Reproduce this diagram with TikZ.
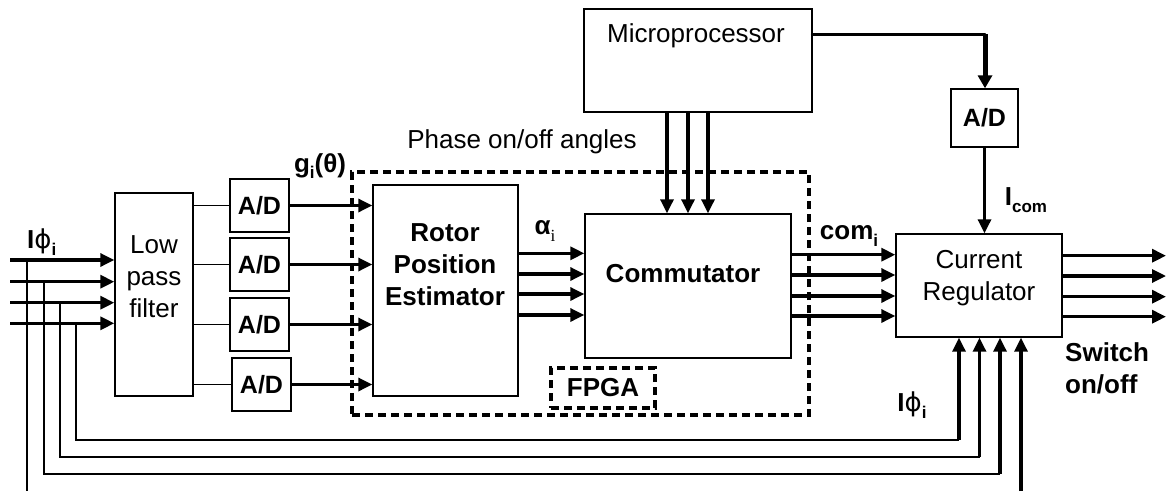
\documentclass[tikz,border=0pt]{standalone}
\usepackage{fontspec}
\setmainfont{Liberation Sans}
\newfontfamily\seriffont{Liberation Serif}
\newfontfamily\dejavu{DejaVu Sans}
\usetikzlibrary{arrows.meta}
\newcommand{\lsub}[1]{\raisebox{-0.25em}{\fontsize{17}{17}\selectfont #1}}
\newcommand{\phisym}{{\dejavu ϕ}}
\begin{document}
\begin{tikzpicture}[x=1pt,y=-1pt,
  font=\fontsize{26}{32}\selectfont,
  box/.style={draw, line width=1.4pt, inner sep=0pt},
  bfont/.style={font=\fontsize{26}{32}\selectfont\bfseries},
  adbox/.style={box, minimum width=59pt, minimum height=53pt, font=\fontsize{25}{30}\selectfont\bfseries},
  dbox/.style={draw, dash pattern=on 8pt off 5pt, line width=3.2pt, inner sep=0pt},
  arr/.style={line width=3.2pt, -{Triangle[length=14pt,width=13pt]}},
  thinline/.style={line width=1.4pt},
  fb/.style={line width=1.7pt},
  lbl/.style={inner sep=0pt}
]
\useasboundingbox (0,0) rectangle (1170,491);

% FPGA areas
\node[dbox, minimum width=457pt, minimum height=243pt] (fpgaarea) at (580.5,293.5) {};
\node[dbox, minimum width=104pt, minimum height=40pt, bfont] (fpga) at (603,388) {FPGA};

% blocks
\node[box, minimum width=78pt, minimum height=203pt] (lpf) at (154,294.5) {};
\node[lbl, align=center] (lpftxt) at (154,277) {Low\\pass\\filter};
\node[adbox] (ad1) at (259.5,205.5) {A/D};
\node[adbox] (ad2) at (259.5,264.5) {A/D};
\node[adbox] (ad3) at (259.5,324.5) {A/D};
\node[adbox] (ad4) at (261.5,384.5) {A/D};
\node[box, minimum width=145pt, minimum height=211pt] (rotor) at (445.5,290.5) {};
\node[lbl, align=center, bfont] (rotortxt) at (445,265) {Rotor\\Position\\Estimator};
\node[box, minimum width=206pt, minimum height=144pt] (comm) at (688,286) {};
\node[lbl, bfont] (commtxt) at (683,274) {Commutator};
\node[box, minimum width=228pt, minimum height=103pt] (micro) at (698,60.5) {};
\node[lbl] (microtxt) at (696,36) {Microprocessor};
\node[adbox, minimum width=67pt, minimum height=58pt] (adtop) at (984.5,118) {A/D};
\node[box, minimum width=166pt, minimum height=103pt] (reg) at (979,285.5) {};
\node[lbl, align=center] (regtxt) at (979,278) {Current\\Regulator};

% labels
\node[lbl] (lphi1) at (41.7,242) {\textbf{I}\phisym\lsub{\textbf{i}}};
\node[lbl] (lg) at (320,166) {\textbf{g}\lsub{\textbf{i}}\textbf{(θ)}};
\node[lbl] (lphase) at (522,142) {Phase on/off angles};
\node[lbl] (lalpha) at (545,231) {\textbf{α}\lsub{\seriffont i}};
\node[lbl] (lcom) at (849,236) {\textbf{com}\lsub{\textbf{i}}};
\node[lbl] (licom) at (1026,200) {\textbf{I}\lsub{\textbf{com}}};
\node[lbl] (lphi2) at (912,405) {\textbf{I}\phisym\lsub{\textbf{i}}};
\node[lbl, align=left, anchor=west, bfont] (lsw) at (1065,368) {Switch\\on/off};

% inputs to low pass filter
\coordinate (in1) at (10,260);
\coordinate (in2) at (10,281.7);
\coordinate (in3) at (10,302.7);
\coordinate (in4) at (10,323.3);
\foreach \i in {1,...,4} {\draw[arr] (in\i) -- (in\i -| lpf.west);}

% taps and feedback lines
\coordinate (t1) at (27.3,260);
\coordinate (t2) at (44.3,281.7);
\coordinate (t3) at (60,302.7);
\coordinate (t4) at (76,323.3);
\coordinate (b1) at (27.3,491);
\coordinate (c2) at (1000,474);
\coordinate (c3) at (979.5,457);
\coordinate (c4) at (959,440);
\coordinate (b5) at (1021,491);
\draw[fb] (t1) -- (b1);
\draw[fb] (t2) |- (c2);
\draw[fb] (t3) |- (c3);
\draw[fb] (t4) |- (c4);
\draw[arr] (c2) -- (c2 |- reg.south);
\draw[arr] (c3) -- (c3 |- reg.south);
\draw[arr] (c4) -- (c4 |- reg.south);
\draw[arr] (b5) -- (b5 |- reg.south);

% filter to A/D
\foreach \i in {1,...,4} {\draw[thinline] (ad\i.west -| lpf.east) -- (ad\i.west);}
% A/D to rotor
\foreach \i in {1,...,4} {\draw[arr] (ad\i.east) -- (ad\i.east -| rotor.west);}

% rotor to commutator
\coordinate (ra1) at (518,253.3);
\coordinate (ra2) at (518,274);
\coordinate (ra3) at (518,294);
\coordinate (ra4) at (518,315);
\foreach \i in {1,...,4} {\draw[arr] (rotor.east |- ra\i) -- (comm.west |- ra\i);}

% commutator to regulator
\coordinate (ca1) at (791,254.7);
\coordinate (ca2) at (791,275);
\coordinate (ca3) at (791,296);
\coordinate (ca4) at (791,316);
\foreach \i in {1,...,4} {\draw[arr] (comm.east |- ca\i) -- (reg.west |- ca\i);}

% regulator outputs
\coordinate (o1) at (1166,255.7);
\coordinate (o2) at (1166,276);
\coordinate (o3) at (1166,296.7);
\coordinate (o4) at (1166,316.7);
\foreach \i in {1,...,4} {\draw[arr] (reg.east |- o\i) -- (o\i);}

% microprocessor to commutator
\coordinate (m1) at (667,112);
\coordinate (m2) at (688,112);
\coordinate (m3) at (708,112);
\foreach \i in {1,2,3} {\draw[arr] (micro.south -| m\i) -- (comm.north -| m\i);}

% microprocessor to A/D to regulator
\coordinate (mk) at (985,34.3);
\draw[line width=3.5pt, line cap=round] (micro.east |- mk) -- (mk);
\draw[line width=5pt, -{Triangle[length=13pt,width=14pt]}] (mk) -- (adtop.north -| mk);
\draw[arr] (adtop.south) -- (adtop.south |- reg.north);
\end{tikzpicture}
\end{document}
